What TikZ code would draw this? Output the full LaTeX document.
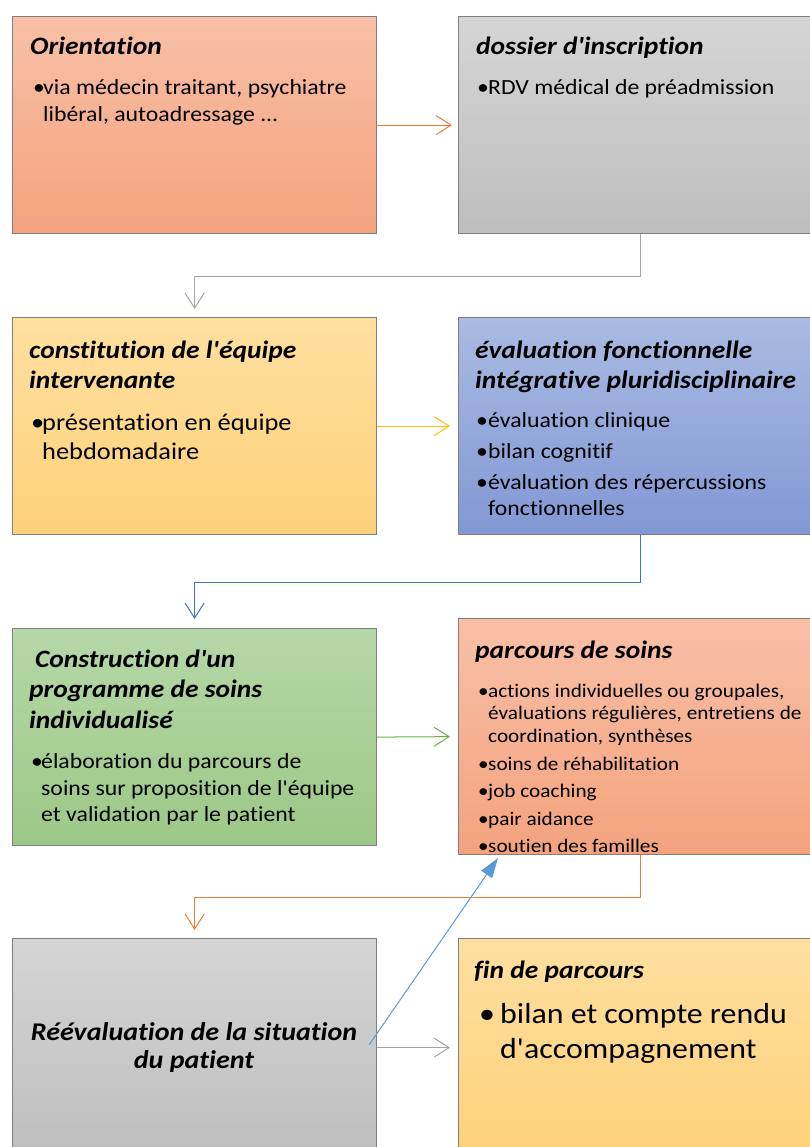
\documentclass[tikz,border=0pt]{standalone}
\usepackage{fontspec}
\setmainfont{Carlito}[FakeStretch=1.1, Ligatures={NoCommon,TeXOff}]
\usetikzlibrary{arrows.meta}
\definecolor{orTop}{HTML}{F8C0A7}
\definecolor{orBot}{HTML}{F4A27D}
\definecolor{grTop}{HTML}{D5D5D5}
\definecolor{grBot}{HTML}{BEBEBE}
\definecolor{yeTop}{HTML}{FFDFA0}
\definecolor{yeBot}{HTML}{FDD179}
\definecolor{blTop}{HTML}{AABAE2}
\definecolor{blBot}{HTML}{8298D4}
\definecolor{gnTop}{HTML}{B6D7A8}
\definecolor{gnBot}{HTML}{9CC886}
\definecolor{boxline}{HTML}{7F7F7F}
\definecolor{cOrange}{HTML}{ED7D31}
\definecolor{cGrey}{HTML}{A5A5A5}
\definecolor{cYellow}{HTML}{FFC000}
\definecolor{cBlue}{HTML}{4472C4}
\definecolor{cGreen}{HTML}{70AD47}
\definecolor{cLBlue}{HTML}{5B9BD5}
\newcommand\bl[1][10pt]{\makebox[#1][l]{•}}
\begin{document}
\begin{tikzpicture}[x=1pt,y=-1pt,
  boxnode/.style={draw=boxline, line width=1.2pt, inner sep=0pt, anchor=north west,
    minimum width=364pt, minimum height=217pt},
  ttl/.style={anchor=base west, inner sep=0pt, font=\fontsize{25}{30}\selectfont\bfseries\itshape},
  ttlc/.style={anchor=base, inner sep=0pt, font=\fontsize{25.5}{30}\selectfont\bfseries\itshape},
  bod/.style={anchor=base west, inner sep=0pt, font=\fontsize{21.6}{26}\selectfont},
  bodl/.style={anchor=base west, inner sep=0pt, font=\fontsize{24}{28}\selectfont},
  bods/.style={anchor=base west, inner sep=0pt, font=\fontsize{19.3}{23}\selectfont},
  bodx/.style={anchor=base west, inner sep=0pt, font=\fontsize{29}{34}\selectfont},
  conn/.style={line width=1pt, -{Straight Barb[length=15pt,width=19pt,line width=1pt]}},
]
\useasboundingbox (0,0) rectangle (810,1147);
\clip (0,0) rectangle (810,1147);

% boxes
\node[boxnode, top color=orTop, bottom color=orBot] (b1) at (12,16) {};
\node[boxnode, top color=grTop, bottom color=grBot] (b2) at (458,16) {};
\node[boxnode, top color=yeTop, bottom color=yeBot] (b3) at (12,317) {};
\node[boxnode, top color=blTop, bottom color=blBot] (b4) at (458,317) {};
\node[boxnode, top color=gnTop, bottom color=gnBot] (b5) at (12,628) {};
\node[boxnode, top color=orTop, bottom color=orBot, minimum height=236pt] (b6) at (458,618) {};
\node[boxnode, top color=grTop, bottom color=grBot, minimum height=218pt] (b7) at (12,938) {};
\node[boxnode, top color=yeTop, bottom color=yeBot, minimum height=218pt] (b8) at (458,938) {};

% box 1
\node[ttl] (t1a) at (30,55) {Orientation};
\node[bod] (t1b) at (33,95) {\bl via médecin traitant, psychiatre};
\node[bod] (t1c) at (43,122) {libéral, autoadressage ...};
% box 2
\node[ttl] (t2a) at (476,55) {dossier d'inscription};
\node[bod] (t2b) at (477,95) {\bl[11pt]RDV médical de préadmission};
% box 3
\node[ttl] (t3a) at (29,358) {constitution de l'équipe};
\node[ttl] (t3b) at (29,388) {intervenante};
\node[bodl] (t3c) at (31,430) {\bl[11pt]présentation en équipe};
\node[bodl] (t3d) at (42,459) {hebdomadaire};
% box 4
\node[ttl] (t4a) at (475,358) {évaluation fonctionnelle};
\node[ttl] (t4b) at (475,388) {intégrative pluridisciplinaire};
\node[bod] (t4c) at (476,427) {\bl[12pt]évaluation clinique};
\node[bod] (t4d) at (476,458) {\bl[12pt]bilan cognitif};
\node[bod] (t4e) at (476,489) {\bl[12pt]évaluation des répercussions};
\node[bod] (t4f) at (488,515) {fonctionnelles};
% box 5
\node[ttl] (t5a) at (35,667) {Construction d'un};
\node[ttl] (t5b) at (29,697) {programme de soins};
\node[ttl] (t5c) at (29,728) {individualisé};
\node[bod] (t5d) at (31,768) {\bl[10pt]élaboration du parcours de};
\node[bod] (t5e) at (41,795) {soins sur proposition de l'équipe};
\node[bod] (t5f) at (41,821) {et validation par le patient};
% box 6
\node[ttl] (t6a) at (475,658) {parcours de soins};
\node[bods] (t6b) at (478,697) {\bl actions individuelles ou groupales,};
\node[bods] (t6c) at (488,719) {évaluations régulières, entretiens de};
\node[bods] (t6d) at (488,742) {coordination, synthèses};
\node[bods] (t6e) at (478,770) {\bl soins de réhabilitation};
\node[bods] (t6f) at (478,797) {\bl job coaching};
\node[bods] (t6g) at (478,825) {\bl pair aidance};
\node[bods] (t6h) at (478,852) {\bl soutien des familles};
% box 7
\node[ttlc] (t7a) at (194,1040) {Réévaluation de la situation};
\node[ttlc] (t7b) at (194,1068) {du patient};
% box 8
\node[ttl] (t8a) at (474,978) {fin de parcours};
\node[bodx] (t8b) at (479,1023) {\bl[21pt]bilan et compte rendu};
\node[bodx] (t8c) at (500,1058) {d'accompagnement};

% connectors
\draw[conn, cOrange, shorten >=6pt] (b1.east) -- (b2.west);
\draw[conn, cGrey, shorten >=8pt] (b2.south) -- ++(0,42) -| (b3.north);
\draw[conn, cYellow, shorten >=8pt] (b3.east) -- (b4.west);
\draw[conn, cBlue, shorten >=9pt] (b4.south) -- ++(0,47) -| (b5.north);
\draw[conn, cGreen, shorten >=8pt] (b5.east) -- (b6.west);
\draw[conn, cOrange, shorten >=8pt] (b6.south) -- ++(0,42) -| (b7.north);
\draw[conn, cGrey, shorten >=8pt] (b7.east) -- (b8.west);
\coordinate (r1) at (369,1045);
\coordinate (r2) at (498,858);
\draw[line width=1pt, cLBlue, -{Triangle[length=20pt,width=13pt]}] (r1) -- (r2);
\end{tikzpicture}
\end{document}
